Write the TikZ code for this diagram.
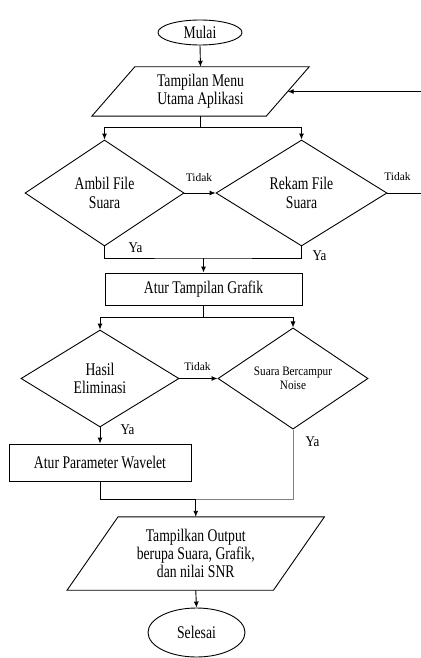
\documentclass[tikz,border=0pt]{standalone}
\usepackage{fontspec}
\setmainfont{Liberation Serif}
\usetikzlibrary{shapes.geometric,arrows.meta}
\newcommand{\vs}[1]{\scalebox{1}[1.3]{#1}}
\newcommand{\vsb}[1]{\scalebox{1}[1.15]{#1}}
\newcommand{\mainf}{\fontsize{13.7}{18.3}\selectfont}
\newcommand{\smallf}{\fontsize{11.2}{14.5}\selectfont}
\newcommand{\tidakf}{\fontsize{11.5}{13}\selectfont}
\newcommand{\yaf}{\fontsize{13}{15}\selectfont}
\begin{document}
\begin{tikzpicture}[x=1pt,y=-1pt,
  line/.style={line width=0.9pt},
  arr/.style={line,-{Latex[length=6pt,width=5pt]}},
  term/.style={ellipse,draw,line,inner sep=0pt,font=\mainf},
  proc/.style={rectangle,draw,line,inner sep=0pt,font=\mainf,align=center},
  dec/.style={diamond,draw,line,inner sep=0pt,font=\mainf,align=center},
  io/.style={rectangle,inner sep=0pt,font=\mainf,align=center},
  lbl/.style={inner sep=0pt}]
\fill[white] (0,0) rectangle (420,658);
\useasboundingbox (0,0) rectangle (420,658);

\node[term,minimum width=84pt,minimum height=25pt] (mulai) at (200,32.5) {\vs{Mulai}};
\node[io,minimum width=174pt,minimum height=49pt] (menu) at (200.5,91.5) {\vs{Tampilan Menu}\\\vs{Utama Aplikasi}};
\draw[line] ([xshift=21.5pt]menu.north west) -- ([xshift=21.5pt]menu.north east) -- ([xshift=-21.5pt]menu.south east) -- ([xshift=-21.5pt]menu.south west) -- cycle;

\node[dec,minimum width=159pt,minimum height=106pt] (d1) at (104.5,193) {\vs{Ambil File}\\\vs{Suara}};
\node[dec,minimum width=171pt,minimum height=106pt] (d2) at (301.5,193) {\vs{Rekam File}\\\vs{Suara}};
\node[proc,minimum width=197pt,minimum height=32pt] (r1) at (203.5,289) {\vs{Atur Tampilan Grafik}};
\node[dec,minimum width=158pt,minimum height=97pt] (d3) at (100,378.5) {\vs{Hasil}\\\vs{Eliminasi}};
\node[dec,minimum width=150pt,minimum height=97pt,font=\smallf] (d4) at (293,378.5) {\vsb{Suara Bercampur}\\\vsb{Noise}};
\node[proc,minimum width=182pt,minimum height=37pt] (r2) at (100,462.5) {\vs{Atur Parameter Wavelet}};
\node[io,minimum width=206pt,minimum height=73pt] (out) at (195.75,553.5) {\vs{Tampilkan Output}\\\vs{berupa Suara, Grafik,}\\\vs{dan nilai SNR}};
\draw[line] ([xshift=25.5pt]out.north west) -- ([xshift=25.5pt]out.north east) -- ([xshift=-25.5pt]out.south east) -- ([xshift=-25.5pt]out.south west) -- cycle;
\node[term,minimum width=97pt,minimum height=49pt] (selesai) at (196.5,632.5) {\vs{Selesai}};

\coordinate (s1) at (200.5,127);
\coordinate (fb) at (430,193);
\coordinate (j1) at (203.5,258);
\coordinate (s2) at (203.5,317);
\coordinate (j2) at (195.75,499);

\draw[arr] (mulai.south) -- (menu.north);
\draw[line] (menu.south) -- (s1);
\draw[arr] (s1) -| (d1.north);
\draw[arr] (s1) -| (d2.north);
\draw[arr] (d1.east) -- (d2.west);
\draw[arr] (d2.east) -- (fb) |- (menu.east);
\draw[line] (d1.south) |- (j1) -| (d2.south);
\draw[arr] (j1) -- (r1.north);
\draw[line] (r1.south) -- (s2);
\draw[arr] (s2) -| (d3.north);
\draw[arr] (s2) -| (d4.north);
\draw[arr] (d3.east) -- (d4.west);
\draw[arr] (d3.south) -- (r2.north);
\draw[line] (r2.south) |- (j2);
\draw[line,black!50] (j2) -| (d4.south);
\draw[arr] (j2) -- (out.north);
\draw[arr] (out.south) -- (selesai.north);

\node[lbl,font=\tidakf] (t1) at (199,178) {Tidak};
\node[lbl,font=\tidakf] (t2) at (397.5,177) {Tidak};
\node[lbl,font=\tidakf] (t3) at (197.5,367) {Tidak};
\node[lbl,font=\yaf] (y1) at (135.5,248) {\vsb{Ya}};
\node[lbl,font=\yaf] (y2) at (319.5,256) {\vsb{Ya}};
\node[lbl,font=\yaf] (y3) at (127.5,430) {\vsb{Ya}};
\node[lbl,font=\yaf] (y4) at (312.5,442) {\vsb{Ya}};
\end{tikzpicture}
\end{document}
